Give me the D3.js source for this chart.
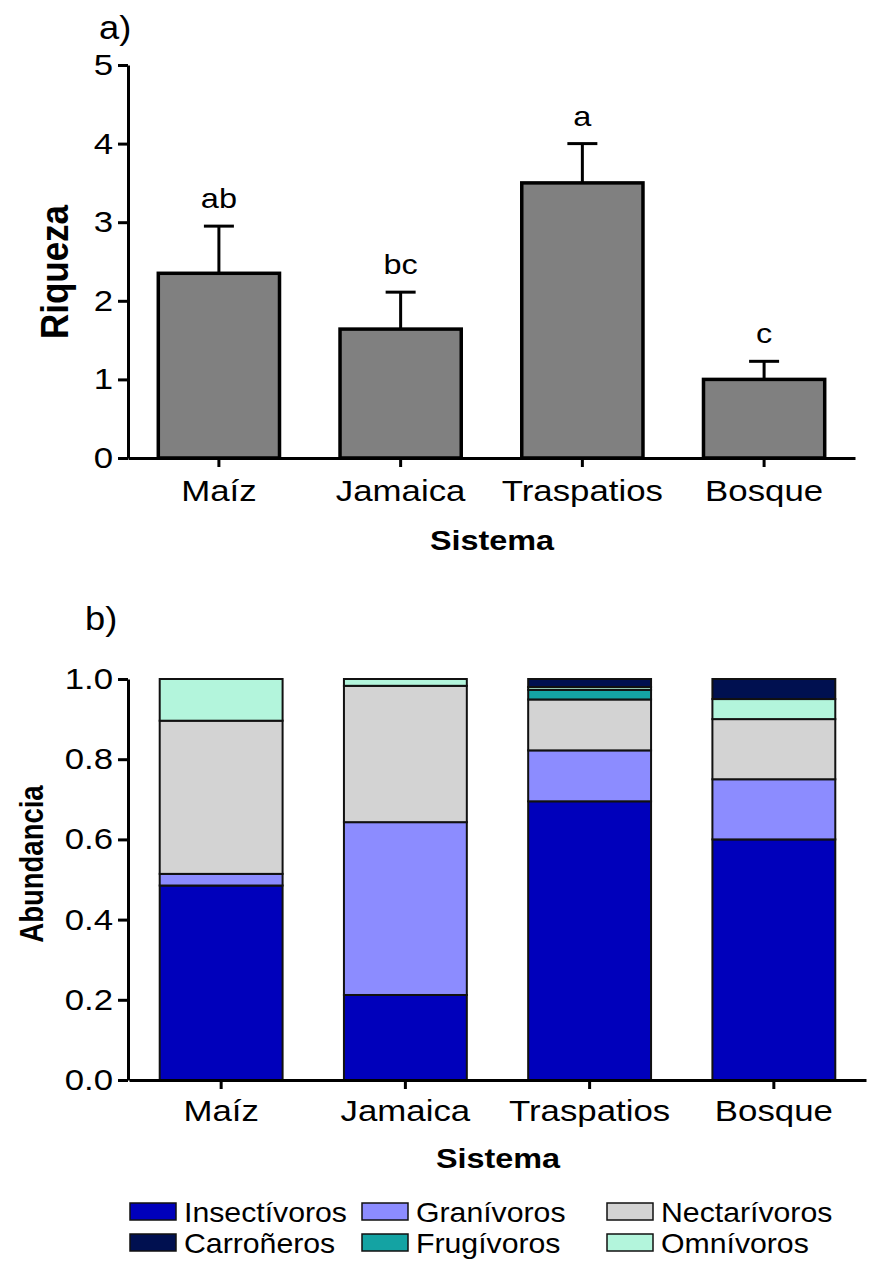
<!doctype html>
<html lang="es">
  <head>
    <meta charset="utf-8">
    <title>Riqueza y abundancia por sistema</title>
    <script type="text/javascript" src="https://d3js.org/d3.v7.min.js"></script>
    <style>
      body { margin: 0; background: #fff; }
      svg text { font-family: "Liberation Sans", Arial, sans-serif; fill: #000; }
    </style>
  </head>
  <body>
    <div class="visual"></div>
  <script>
    // datos
    const sistemas = ['Maíz', 'Jamaica', 'Traspatios', 'Bosque'];
    const riqueza = [2.35, 1.64, 3.5, 1.0];
    const riquezaError = [0.6, 0.47, 0.5, 0.23];
    const letras = ['ab', 'bc', 'a', 'c'];
    const riquezaTicks = [0, 1, 2, 3, 4, 5];

    const gremios = ['Insectívoros', 'Granívoros', 'Nectarívoros', 'Frugívoros', 'Omnívoros', 'Carroñeros'];
    const insectivoros = [0.485, 0.212, 0.695, 0.600];
    const granivoros   = [0.029, 0.431, 0.127, 0.150];
    const nectarivoros = [0.382, 0.340, 0.127, 0.150];
    const frugivoros   = [0.000, 0.000, 0.024, 0.000];
    const omnivoros    = [0.104, 0.017, 0.007, 0.050];
    const carroneros   = [0.000, 0.000, 0.020, 0.050];
    const abundanciaTicks = [0, 0.2, 0.4, 0.6, 0.8, 1.0];
    const legendOrder = ['Insectívoros', 'Granívoros', 'Nectarívoros', 'Carroñeros', 'Frugívoros', 'Omnívoros'];

    const colores = {
      'Insectívoros': '#0000bb',
      'Granívoros': '#8c8cff',
      'Nectarívoros': '#d3d3d3',
      'Frugívoros': '#14a3a3',
      'Omnívoros': '#b3f5dc',
      'Carroñeros': '#001050'
    };

    const w = 873, h = 1270;
    const sx = 1.2; // text looks a little wide in the original
    const svg = d3.select('.visual').append('svg')
      .attr('width', w).attr('height', h);

    // helper for stretched text
    const text = (g, x, y, s, size, opts = {}) => {
      const k = opts.sx || sx;
      return g.append('text')
        .attr('transform', 'translate(' + x + ',' + y + ')' + (opts.rotate ? ' rotate(-90) scale(1,' + k + ')' : ' scale(' + k + ',1)'))
        .attr('text-anchor', opts.anchor || 'middle')
        .style('font-size', size + 'px')
        .style('font-weight', opts.bold ? 'bold' : 'normal')
        .text(s);
    };

    const styleAxis = (g) => {
      g.selectAll('path.domain').attr('stroke', '#000').attr('stroke-width', 3);
      g.selectAll('.tick line').attr('stroke', '#000').attr('stroke-width', 3);
      g.selectAll('.tick text').remove();
    };

    // ---------- a) Riqueza ----------
    const xR = d3.scaleBand().domain(sistemas).range([128, 855]).paddingInner(0.333).paddingOuter(0.1667);
    const yR = d3.scaleLinear().domain([0, 5]).range([458, 65]);

    const gA = svg.append('g');
    const rows = sistemas.map((s, i) => ({ s: s, v: riqueza[i], e: riquezaError[i], l: letras[i] }));

    // error bars (upper only)
    gA.selectAll('line.err').data(rows).enter().append('line')
      .attr('x1', d => xR(d.s) + xR.bandwidth() / 2).attr('x2', d => xR(d.s) + xR.bandwidth() / 2)
      .attr('y1', d => yR(d.v)).attr('y2', d => yR(d.v + d.e))
      .attr('stroke', '#000').attr('stroke-width', 3);
    gA.selectAll('line.cap').data(rows).enter().append('line')
      .attr('x1', d => xR(d.s) + xR.bandwidth() / 2 - 15).attr('x2', d => xR(d.s) + xR.bandwidth() / 2 + 15)
      .attr('y1', d => yR(d.v + d.e)).attr('y2', d => yR(d.v + d.e))
      .attr('stroke', '#000').attr('stroke-width', 3);

    gA.selectAll('rect').data(rows).enter().append('rect')
      .attr('x', d => xR(d.s)).attr('width', xR.bandwidth())
      .attr('y', d => yR(d.v)).attr('height', d => yR(0) - yR(d.v))
      .attr('fill', '#808080').attr('stroke', '#000').attr('stroke-width', 3.5);

    rows.forEach(d => text(gA, xR(d.s) + xR.bandwidth() / 2, yR(d.v + d.e) - 18, d.l, 28, { sx: 1.16 }));

    const yAxisR = gA.append('g').attr('transform', 'translate(128,0)')
      .call(d3.axisLeft(yR).tickValues(riquezaTicks).tickSize(10).tickSizeOuter(0));
    styleAxis(yAxisR);
    riquezaTicks.forEach(t => text(gA, 113, yR(t) + 10, d3.format('d')(t), 29, { anchor: 'end' }));

    const xAxisR = gA.append('g').attr('transform', 'translate(0,458)')
      .call(d3.axisBottom(xR).tickSize(9).tickSizeOuter(0));
    styleAxis(xAxisR);
    sistemas.forEach(s => text(gA, xR(s) + xR.bandwidth() / 2, 501, s, 29));

    text(gA, 492, 550, 'Sistema', 27, { bold: true });
    text(gA, 68, 272, 'Riqueza', 35, { bold: true, rotate: true, sx: 1.1 });
    text(gA, 99, 39, 'a)', 33, { anchor: 'start', sx: 1.1 });

    // ---------- b) Abundancia ----------
    const xB = d3.scaleBand().domain(sistemas).range([129, 866]).paddingInner(0.333).paddingOuter(0.1667);
    const yB = d3.scaleLinear().domain([0, 1]).range([1080, 679]);

    const series = [insectivoros, granivoros, nectarivoros, frugivoros, omnivoros, carroneros];
    const tabla = sistemas.map((s, i) => {
      const o = { sistema: s };
      gremios.forEach((g, k) => { o[g] = series[k][i]; });
      return o;
    });
    const stacked = d3.stack().keys(gremios)(tabla);

    const gB = svg.append('g');
    gB.selectAll('g.layer').data(stacked).enter().append('g')
      .attr('class', 'layer')
      .attr('fill', d => colores[d.key])
      .selectAll('rect').data(d => d.filter(p => p[1] - p[0] > 0)).enter().append('rect')
      .attr('x', d => xB(d.data.sistema)).attr('width', xB.bandwidth())
      .attr('y', d => yB(d[1])).attr('height', d => yB(d[0]) - yB(d[1]))
      .attr('stroke', '#111').attr('stroke-width', 2);

    const yAxisB = gB.append('g').attr('transform', 'translate(128,0)')
      .call(d3.axisLeft(yB).tickValues(abundanciaTicks).tickSize(10).tickSizeOuter(0));
    styleAxis(yAxisB);
    abundanciaTicks.forEach(t => text(gB, 113, yB(t) + 10, d3.format('.1f')(t), 29, { anchor: 'end' }));

    const xAxisB = gB.append('g').attr('transform', 'translate(0,1080)')
      .call(d3.axisBottom(xB).tickSize(9).tickSizeOuter(0));
    styleAxis(xAxisB);
    sistemas.forEach(s => text(gB, xB(s) + xB.bandwidth() / 2, 1121, s, 29));

    text(gB, 498, 1168, 'Sistema', 27, { bold: true });
    text(gB, 43, 864, 'Abundancia', 27.5, { bold: true, rotate: true, sx: 1.2 });
    text(gB, 85, 630, 'b)', 33, { anchor: 'start', sx: 1.1 });

    // legend
    const legX = [130, 362, 607];
    const legY = [1203, 1234];
    const gL = svg.append('g');
    legendOrder.forEach((k, i) => {
      const x = legX[i % 3], y = legY[Math.floor(i / 3)];
      gL.append('rect').attr('x', x).attr('y', y).attr('width', 46).attr('height', 17)
        .attr('fill', colores[k]).attr('stroke', '#111').attr('stroke-width', 1.5);
      text(gL, x + 54, y + 19, k, 28, { anchor: 'start', sx: 1.08 });
    });
  </script>
  </body>
</html>
